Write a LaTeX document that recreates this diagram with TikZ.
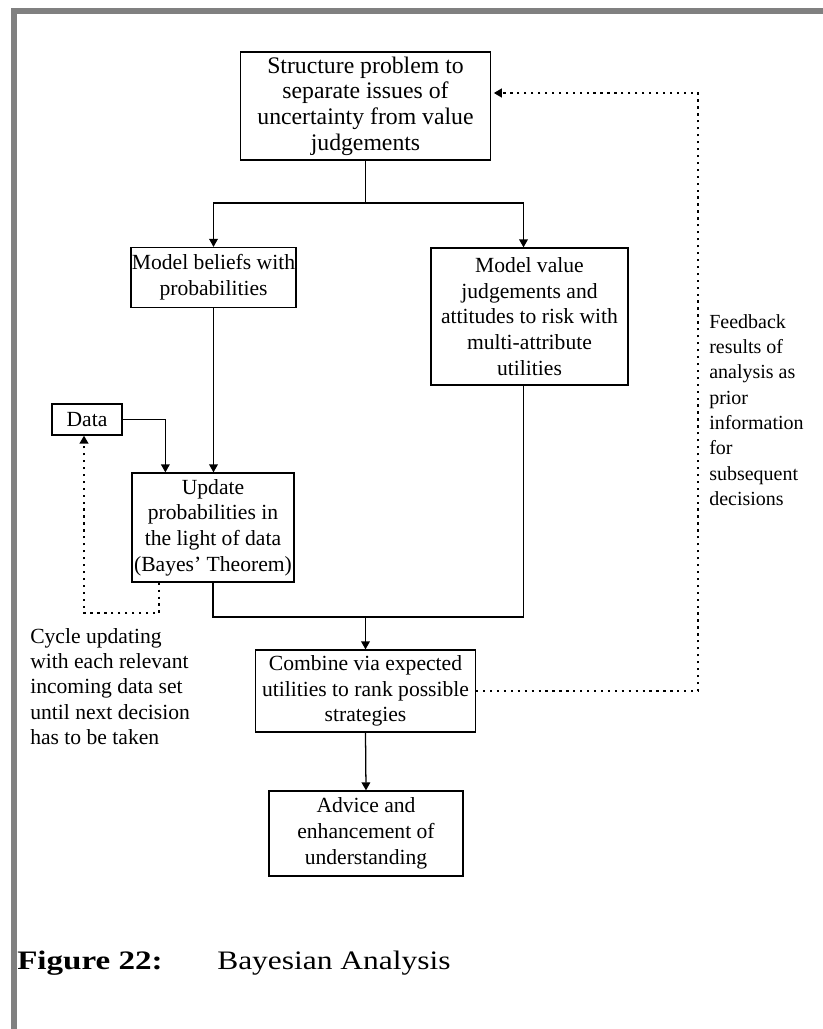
\documentclass[tikz,border=0pt]{standalone}
\usepackage{fontspec}
\setmainfont{Liberation Serif}
\newfontfamily\captionwide{Liberation Serif}[FakeStretch=1.18]
\newfontfamily\captionwidebf{Liberation Serif Bold}[FakeStretch=1.24]
\usetikzlibrary{arrows.meta}
\definecolor{framegray}{HTML}{808080}
\begin{document}
\begin{tikzpicture}[x=0.75pt,y=-0.75pt,
  box/.style={draw, line width=0.95pt, align=center, inner sep=0pt, font=\fontsize{16.2}{19.3}\selectfont},
  lbl/.style={align=left, inner sep=0pt, font=\fontsize{16.2}{19}\selectfont},
  conn/.style={line width=0.95pt},
  arr/.style={conn, -{Triangle[width=6.5pt,length=6pt]}},
  dotline/.style={line width=1.6pt, dash pattern=on 1.7pt off 3.5pt},
  dotarr/.style={dotline, -{Triangle[width=6.5pt,length=6pt]}}]
\useasboundingbox (0,0) rectangle (823,1029);
% frame
\fill[framegray] (11,8) rectangle (823,14);
\fill[framegray] (11,8) rectangle (17,1029);
% boxes
\node[box, minimum width=187.5pt, minimum height=81pt, font=\fontsize{17.8}{19.3}\selectfont] (struct) at (365.5,106)
  {Structure problem to\\separate issues of\\uncertainty from value\\judgements};
\node[box, minimum width=123.75pt, minimum height=45pt] (beliefs) at (213.5,277.5)
  {Model beliefs with\\probabilities};
\node[box, minimum width=147.75pt, minimum height=102.75pt] (values) at (529.5,316.5)
  {Model value\\judgements and\\attitudes to risk with\\multi-attribute\\utilities};
\node[box, minimum width=52.5pt, minimum height=23.25pt] (data) at (87,419.5) {Data};
\node[box, minimum width=121.5pt, minimum height=81.75pt] (update) at (213,527.5)
  {Update\\probabilities in\\the light of data\\(Bayes’ Theorem)};
\node[box, minimum width=165pt, minimum height=61.5pt] (combine) at (365.5,691)
  {Combine via expected\\utilities to rank possible\\strategies};
\node[box, minimum width=145.5pt, minimum height=63.75pt] (advice) at (366,833.5)
  {Advice and\\enhancement of\\understanding};
% labels
\node[lbl, anchor=north west] (cyclelbl) at (30,628)
  {Cycle updating\\with each relevant\\incoming data set\\until next decision\\has to be taken};
\node[lbl, anchor=north west, font=\fontsize{15}{19}\selectfont] (fblbl) at (709,314)
  {Feedback\\results of\\analysis as\\prior\\information\\for\\subsequent\\decisions};
\node[anchor=base west, inner sep=0pt, font=\fontsize{20}{22}\captionwidebf] (fignum) at (17,969) {Figure 22:};
\node[anchor=base west, inner sep=0pt, font=\fontsize{20}{22}\captionwide] (figtitle) at (217,969) {Bayesian Analysis};
% connectors
\coordinate (split) at (struct.south |- 0,203);
\draw[conn] (struct.south) -- (split);
\draw[arr] (split) -| (beliefs.north);
\draw[arr] (split) -| ([xshift=-4.5pt]values.north);
\draw[arr] (beliefs.south) -- (beliefs.south |- update.north);
\draw[arr] (data.east) -| ([xshift=25.5pt]update.north west);
\coordinate (merge) at (combine.north |- 0,617);
\draw[conn] (update.south) |- (merge) -| ([xshift=-4.5pt]values.south);
\draw[arr] (merge) -- (combine.north);
\draw[arr] (combine.south) -- (advice.north);
% feedback loop
\coordinate (fbcorner) at (698,691);
\draw[dotarr] (combine.east) -- (fbcorner) |- ([yshift=9.75pt,xshift=2pt]struct.east);
% cycle loop
\coordinate (cyccorner) at (84,613);
\draw[dotarr] ([xshift=21pt]update.south west) |- (cyccorner) -- (cyccorner |- data.south);
\end{tikzpicture}
\end{document}
